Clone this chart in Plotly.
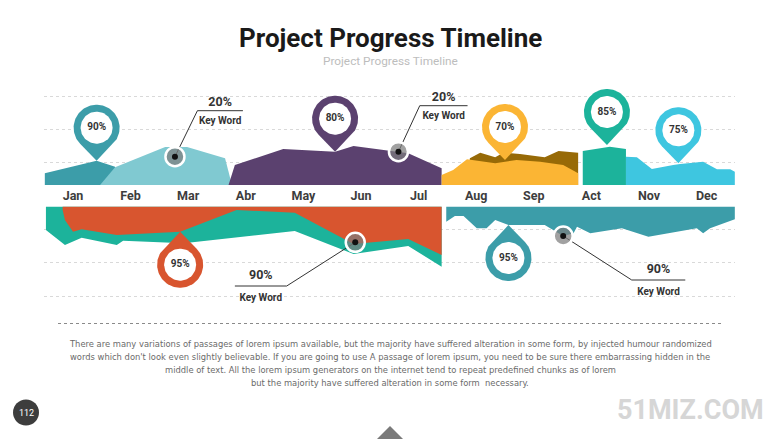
import numpy as np
import plotly.graph_objects as go

# page is rendered with an 8px body margin; compensate so the picture lands at the reference position
OFF = 8
W, H = 780 - OFF, 439 - OFF
PX_PER_MONTH = 57.6

# ---------------- data ----------------
months = ["Jan", "Feb", "Mar", "Abr", "May", "Jun", "Jul", "Aug", "Sep", "Act", "Nov", "Dec"]
month_pos = list(range(12))

# top band: progress profiles (x = month position, y = level above baseline)
jan_x = [-0.49, -0.49, 0.41, 0.73, 0.73]
jan_y = [0, 11.7, 24.3, 18.3, 0]
febmar_x = [0.47, 0.73, 1.60, 1.98, 2.64, 2.76]
febmar_y = [0, 17.7, 38.0, 38.0, 26.7, 0]
aprjul_x = [2.70, 2.81, 3.65, 4.55, 4.87, 5.42, 5.82, 6.40, 6.40]
aprjul_y = [0, 20.0, 36.0, 33.3, 39.0, 35.0, 31.7, 16.7, 0]
augsep_back_x = [6.85, 6.89, 7.07, 7.33, 7.47, 7.76, 8.19, 8.43, 8.77, 8.77]
augsep_back_y = [0, 26.7, 32.3, 27.7, 32.3, 31.0, 27.7, 34.0, 32.3, 0]
augsep_x = [6.40, 6.40, 6.60, 6.84, 7.33, 7.70, 8.11, 8.51, 8.77, 8.77]
augsep_y = [0, 10.0, 15.0, 25.7, 21.7, 25.0, 23.3, 20.0, 11.7, 0]
oct_x = [8.85, 8.85, 9.32, 9.60, 9.60]
oct_y = [0, 34.0, 38.3, 36.0, 0]
novdec_x = [9.60, 9.60, 9.79, 10.05, 10.42, 10.54, 10.94, 11.18, 11.41, 11.49, 11.49]
novdec_y = [0, 28.3, 27.7, 16.0, 20.0, 21.0, 23.3, 15.7, 15.7, 13.3, 0]

# bottom band: hanging profiles (y negative = below the band top)
band_top = -21.7
low_back_x = [-0.47, -0.47, -0.14, 0.15, 0.76, 0.87, 1.92, 3.85, 4.87, 5.82, 6.40, 6.40]
low_back_y = [band_top, -45.0, -60.0, -52.7, -60.0, -55.7, -58.3, -46.0, -69.0, -61.0, -81.7, band_top]
low_front_x = [-0.18, -0.18, -0.14, 0.00, 0.15, 0.76, 1.86, 2.84, 3.85, 4.87, 5.82, 6.40, 6.40]
low_front_y = [band_top, -25.0, -35.0, -46.7, -44.3, -50.0, -46.7, -25.0, -27.7, -59.0, -54.0, -70.0, band_top]
low_right_x = [6.48, 6.48, 6.63, 6.78, 7.01, 7.18, 7.33, 7.56, 8.19, 8.51, 8.69, 8.75, 8.98,
               9.53, 9.99, 10.83, 10.94, 11.06, 11.49, 11.49]
low_right_y = [band_top, -36.7, -31.0, -31.0, -43.3, -43.3, -35.0, -40.0, -40.0, -51.0, -48.3, -41.7, -48.3,
               -43.3, -51.7, -43.3, -48.3, -43.3, -34.3, band_top]

# pins (tip position, label)
pin_x = [0.41, 4.55, 7.50, 9.27, 10.51, 1.86, 7.56]
pin_y = [24.3, 33.3, 25.0, 40.0, 21.7, -46.7, -40.0]
pin_labels = ["90%", "80%", "70%", "85%", "75%", "95%", "95%"]
pin_up = [True, True, True, True, True, False, False]

# call-outs
callout_x = [1.77, 5.65, 4.90, 8.51]
callout_y = [28.3, 33.3, -57.3, -51.0]
callout_elbow_x = [2.16, 6.02, 3.71, 9.70]
callout_end_x = [2.95, 6.85, 2.81, 10.63]
callout_line_y = [74.3, 79.3, -101.0, -95.0]
callout_values = ["20%", "20%", "90%", "90%"]
callout_words = ["Key Word", "Key Word", "Key Word", "Key Word"]

grid_levels = [89, 56, 23, -44, -77, -111]

paragraph = [
    "There are many variations of passages of lorem ipsum available, but the majority have suffered alteration in some form, by injected humour randomized",
    "words which don't look even slightly believable. If you are going to use A passage of lorem ipsum, you need to be sure there embarrassing hidden in the",
    "middle of text. All the lorem ipsum generators on the internet tend to repeat predefined chunks as of lorem",
    "but the majority have suffered alteration in some form  necessary.",
]

# ---------------- styles ----------------
C_DTEAL = "#3c9da9"
C_LTEAL = "#80c9d1"
C_PURPLE = "#5b416f"
C_YELLOW = "#fbb534"
C_BROWN = "#976a07"
C_GREEN = "#1cb39b"
C_LBLUE = "#3ec6e0"
C_ORANGE = "#d8552f"
pin_colors = [C_DTEAL, C_PURPLE, C_YELLOW, C_GREEN, C_LBLUE, C_ORANGE, C_DTEAL]

fig = go.Figure()


def add_area(xs, ys, color):
    fig.add_trace(go.Scatter(x=xs, y=ys, fill="toself", fillcolor=color, mode="lines",
                             line=dict(width=0, color=color), hoverinfo="skip", showlegend=False))


add_area(jan_x, jan_y, C_DTEAL)
add_area(febmar_x, febmar_y, C_LTEAL)
add_area(aprjul_x, aprjul_y, C_PURPLE)
add_area(augsep_back_x, augsep_back_y, C_BROWN)
add_area(augsep_x, augsep_y, C_YELLOW)
add_area(oct_x, oct_y, C_GREEN)
add_area(novdec_x, novdec_y, C_LBLUE)
add_area(low_back_x, low_back_y, C_GREEN)
add_area(low_front_x, low_front_y, C_ORANGE)
add_area(low_right_x, low_right_y, C_DTEAL)

# month labels
fig.add_trace(go.Scatter(x=month_pos, y=[-12] * 12, text=months, mode="text",
                         textfont=dict(family="Roboto", size=12.5, color="#3d3d3d", weight="bold"),
                         hoverinfo="skip", showlegend=False))

# pins
R_OUT, R_IN, D_TIP = 23.0, 16.0, 33.0
for x, y, lab, up, col in zip(pin_x, pin_y, pin_labels, pin_up, pin_colors):
    cx, cy = x, (y + D_TIP if up else y - D_TIP)
    phi = -np.pi / 2 if up else np.pi / 2
    a = np.arccos(R_OUT / D_TIP)
    t = np.linspace(phi + a, phi + 2 * np.pi - a, 80)
    xs = np.concatenate([[x], cx + R_OUT * np.cos(t) / PX_PER_MONTH, [x]])
    ys = np.concatenate([[y], cy + R_OUT * np.sin(t), [y]])
    fig.add_trace(go.Scatter(x=xs, y=ys, fill="toself", fillcolor=col, mode="lines",
                             line=dict(width=0, color=col), hoverinfo="skip", showlegend=False))
    t2 = np.linspace(0, 2 * np.pi, 80)
    fig.add_trace(go.Scatter(x=cx + R_IN * np.cos(t2) / PX_PER_MONTH, y=cy + R_IN * np.sin(t2),
                             fill="toself", fillcolor="white", mode="lines",
                             line=dict(width=0, color="white"), hoverinfo="skip", showlegend=False))
    fig.add_trace(go.Scatter(x=[cx], y=[cy], text=[lab], mode="text",
                             textfont=dict(family="Roboto", size=10, color="#333333", weight="bold"),
                             hoverinfo="skip", showlegend=False))

# call-outs
for x, y, ex, endx, ly, val, word in zip(callout_x, callout_y, callout_elbow_x, callout_end_x,
                                         callout_line_y, callout_values, callout_words):
    fig.add_trace(go.Scatter(x=[x, ex, endx], y=[y, ly, ly], mode="lines",
                             line=dict(width=1, color="#333333"), hoverinfo="skip", showlegend=False))
    fig.add_trace(go.Scatter(x=[x], y=[y], mode="markers",
                             marker=dict(size=19, color="rgba(125,125,125,0.72)",
                                         line=dict(width=2.5, color="white")),
                             hoverinfo="skip", showlegend=False))
    fig.add_trace(go.Scatter(x=[x], y=[y], mode="markers",
                             marker=dict(size=6, color="#111111"), hoverinfo="skip", showlegend=False))
    mid = (ex + endx) / 2
    up = ly > 0
    fig.add_trace(go.Scatter(x=[mid, mid], y=[ly + (8 if up else 10), ly - (11 if up else 12)],
                             text=[val, word], mode="text",
                             textfont=dict(family="Roboto", size=[12.5, 10], color="#333333", weight="bold"),
                             hoverinfo="skip", showlegend=False))

# ---------------- layout ----------------
x0 = (73 - 0.5 * PX_PER_MONTH - OFF) / W
x1 = (73 + 11.5 * PX_PER_MONTH - OFF) / W
fig.update_layout(
    width=W, height=H, margin=dict(l=0, r=0, t=0, b=0),
    paper_bgcolor="white", plot_bgcolor="white", showlegend=False,
    xaxis=dict(domain=[x0, x1], range=[-0.5, 11.5], visible=False, fixedrange=True),
    yaxis=dict(domain=[0, 1], range=[-254, 185 - OFF], showticklabels=False, ticks="",
               tickvals=grid_levels, showgrid=True, gridcolor="#d9d9d9", griddash="dot",
               gridwidth=1, zeroline=False, showline=False, fixedrange=True),
)


def px(xp):
    return (xp - OFF) / W


def py(yp):
    return 1 - (yp - OFF) / H


annos = [
    dict(x=px(390), y=py(38), text="<b>Project Progress Timeline</b>",
         font=dict(family="Roboto", size=26, color="#1a1a1a")),
    dict(x=px(390), y=py(61), text="Project Progress Timeline",
         font=dict(family="Roboto", size=11.8, color="#bdbdbd")),
    dict(x=px(26), y=py(412.5), text="112", font=dict(family="Roboto", size=9, color="white")),
    dict(x=px(690), y=py(410), text="<b>51MIZ.COM</b>",
         font=dict(family="Roboto", size=27, color="#d6d6d6")),
]
for i, line in enumerate(paragraph):
    annos.append(dict(x=px(390), y=py(343.5 + 13 * i), text=line,
                      font=dict(family="Liberation Sans Narrow, DejaVu Sans Condensed, Roboto",
                                size=9.3, color="#6a6a6a")))
for a in annos:
    a.update(xref="paper", yref="paper", showarrow=False, xanchor="center", yanchor="middle")
fig.update_layout(annotations=annos)

shapes = [
    dict(type="line", xref="paper", yref="paper", x0=px(58), x1=px(722), y0=py(323.5), y1=py(323.5),
         line=dict(color="#8a8a8a", width=1, dash="dot")),
    dict(type="circle", xref="paper", yref="paper", x0=px(13), x1=px(39), y0=py(425.5), y1=py(399.5),
         fillcolor="#3d3d3d", line=dict(width=0)),
    dict(type="path", xref="paper", yref="paper",
         path=f"M {px(376)} {py(440)} L {px(390)} {py(426)} L {px(404)} {py(440)} Z",
         fillcolor="#7a7a7a", line=dict(width=0)),
]
fig.update_layout(shapes=shapes)

fig.write_html("out.html")
